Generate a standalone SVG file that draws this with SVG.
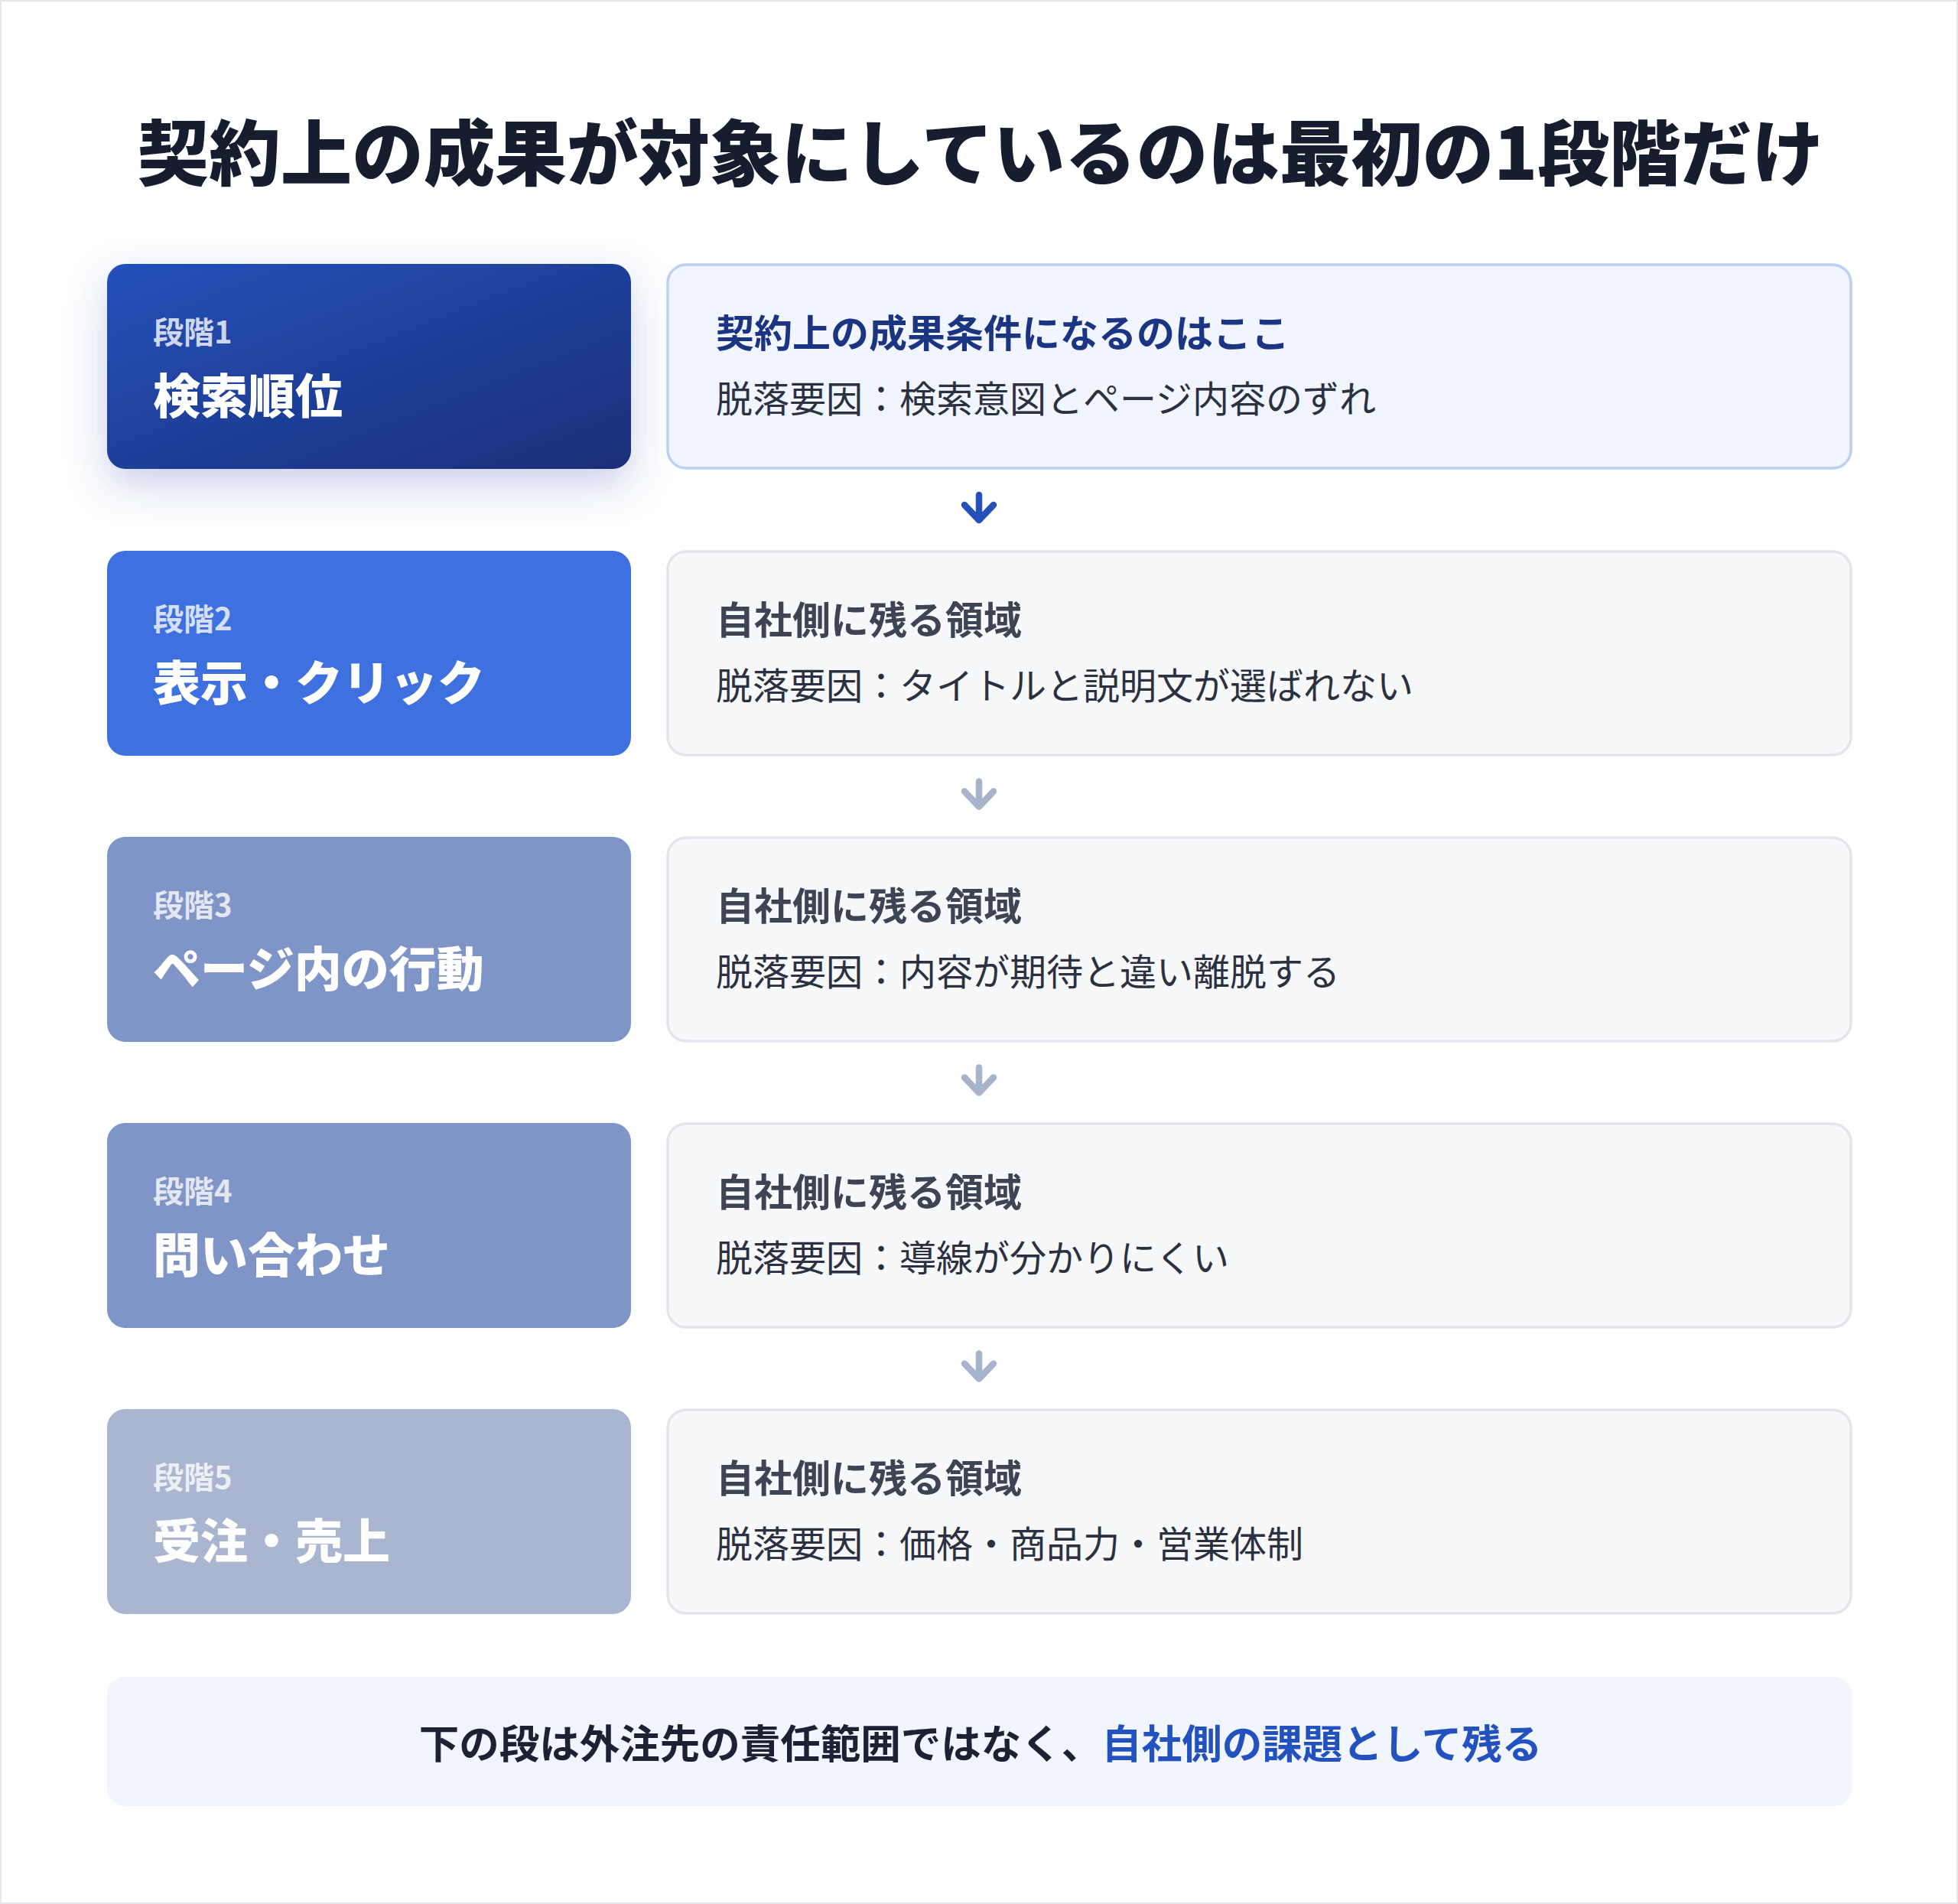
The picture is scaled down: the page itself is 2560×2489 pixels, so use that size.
<svg xmlns="http://www.w3.org/2000/svg" width="2560" height="2489" viewBox="0 0 2560 2489">
<style>
text{font-family:"Noto Sans CJK JP","Noto Sans",sans-serif}
.title{font-size:93.5px;font-weight:900;fill:#161d2e}
.lbl{font-size:40px;font-weight:700;fill:#ffffff;fill-opacity:0.78}
.main{font-size:62px;font-weight:900;fill:#ffffff}
.rt{font-size:50px;font-weight:700;fill:#3d4454}
.rt1{fill:#1c3582}
.rd{font-size:48px;font-weight:400;fill:#2b3140}
.box{fill:#f7f8fa;stroke:#e3e5eb;stroke-width:3.5}
.box1{fill:#f0f5ff;stroke:#bcd0f3}
.arr{fill:none;stroke:#a8b4cc;stroke-width:8.5;stroke-linecap:round;stroke-linejoin:round}
.arr1{stroke:#2450b8}
.foot{font-size:52.5px;font-weight:700;fill:#1c2233}
</style>
<defs>
<linearGradient id="g1" x1="0" y1="0" x2="1" y2="1">
<stop offset="0" stop-color="#2451ba"/>
<stop offset="1" stop-color="#1a2e78"/>
</linearGradient>
<filter id="sh" x="-20%" y="-30%" width="140%" height="170%">
<feDropShadow dx="0" dy="20" stdDeviation="26" flood-color="#2a4aa8" flood-opacity="0.26"/>
</filter>
</defs>
<rect x="1" y="1" width="2558" height="2487" fill="#ffffff" stroke="#e5e7eb" stroke-width="2"/>
<text class="title" x="1282" y="235" text-anchor="middle">契約上の成果が対象にしているのは最初の1段階だけ</text>

<g id="stage1">
<rect x="140" y="345" width="685" height="268" rx="24" fill="url(#g1)" filter="url(#sh)"/>
<text class="lbl" x="200" y="449">段階1</text>
<text class="main" x="200" y="541">検索順位</text>
</g>
<g id="detail1">
<rect class="box box1" x="873" y="346" width="1547" height="266" rx="24"/>
<text class="rt rt1" x="936" y="454">契約上の成果条件になるのはここ</text>
<text class="rd" x="936" y="539">脱落要因：検索意図とページ内容のずれ</text>
</g>

<g id="stage2">
<rect x="140" y="720" width="685" height="268" rx="24" fill="#3e70e0"/>
<text class="lbl" x="200" y="824">段階2</text>
<text class="main" x="200" y="916">表示・クリック</text>
</g>
<g id="detail2">
<rect class="box" x="873" y="721" width="1547" height="266" rx="24"/>
<text class="rt" x="936" y="829">自社側に残る領域</text>
<text class="rd" x="936" y="914">脱落要因：タイトルと説明文が選ばれない</text>
</g>

<g id="stage3">
<rect x="140" y="1094" width="685" height="268" rx="24" fill="#7f94c7"/>
<text class="lbl" x="200" y="1198">段階3</text>
<text class="main" x="200" y="1290">ページ内の行動</text>
</g>
<g id="detail3">
<rect class="box" x="873" y="1095" width="1547" height="266" rx="24"/>
<text class="rt" x="936" y="1203">自社側に残る領域</text>
<text class="rd" x="936" y="1288">脱落要因：内容が期待と違い離脱する</text>
</g>

<g id="stage4">
<rect x="140" y="1468" width="685" height="268" rx="24" fill="#7f94c7"/>
<text class="lbl" x="200" y="1572">段階4</text>
<text class="main" x="200" y="1664">問い合わせ</text>
</g>
<g id="detail4">
<rect class="box" x="873" y="1469" width="1547" height="266" rx="24"/>
<text class="rt" x="936" y="1577">自社側に残る領域</text>
<text class="rd" x="936" y="1662">脱落要因：導線が分かりにくい</text>
</g>

<g id="stage5">
<rect x="140" y="1842" width="685" height="268" rx="24" fill="#aab6cf"/>
<text class="lbl" x="200" y="1946">段階5</text>
<text class="main" x="200" y="2038">受注・売上</text>
</g>
<g id="detail5">
<rect class="box" x="873" y="1843" width="1547" height="266" rx="24"/>
<text class="rt" x="936" y="1951">自社側に残る領域</text>
<text class="rd" x="936" y="2036">脱落要因：価格・商品力・営業体制</text>
</g>

<g id="connectors">
<path class="arr arr1" d="M1280 647V680M1261 660L1280 680L1299 660"/>
<path class="arr" d="M1280 1021.5V1054.5M1261 1034.5L1280 1054.5L1299 1034.5"/>
<path class="arr" d="M1280 1395.5V1428.5M1261 1408.5L1280 1428.5L1299 1408.5"/>
<path class="arr" d="M1280 1769.5V1802.5M1261 1782.5L1280 1802.5L1299 1782.5"/>
</g>

<g id="footer">
<rect x="140" y="2192" width="2281" height="169" rx="24" fill="#f0f5fe"/>
<text class="foot" x="1282" y="2299" text-anchor="middle">下の段は外注先の責任範囲ではなく、<tspan fill="#2352c0">自社側の課題として残る</tspan></text>
</g>
</svg>
